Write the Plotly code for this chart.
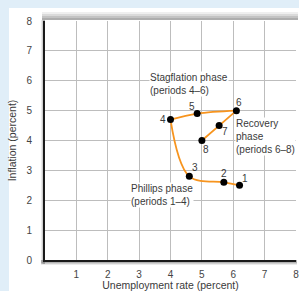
import plotly.graph_objects as go

# ---- data ----
unemployment = [6.2, 5.7, 4.6, 4.0, 4.85, 6.1, 5.55, 5.0]
inflation = [2.5, 2.6, 2.8, 4.7, 4.9, 5.0, 4.5, 4.0]
period_labels = ["1", "2", "3", "4", "5", "6", "7", "8"]
x_ticks = [1, 2, 3, 4, 5, 6, 7, 8]
y_ticks = [0, 1, 2, 3, 4, 5, 6, 7, 8]
phase_segments = [(0, 4), (3, 6), (5, 8)]  # index ranges of the three phases
phase_texts = ["Phillips phase<br>(periods 1–4)",
               "Stagflation phase<br>(periods 4–6)",
               "Recovery<br>phase<br>(periods 6–8)"]
phase_anchor = [(2.71, 2.16), (3.31, 5.90), (6.05, 4.14)]
label_shift = [(5, 7), (0, 9), (6, 9), (-8, 0), (-5, 7), (3, 8), (6, -6), (4, -9)]

ORANGE = "#F7941E"
FONT = "Liberation Sans, Arial, sans-serif"
TXT = "#3a3a3a"

fig = go.Figure()

for a, b in phase_segments:
    fig.add_trace(go.Scatter(
        x=unemployment[a:b], y=inflation[a:b], mode="lines",
        line=dict(color=ORANGE, width=1.8, shape="spline", smoothing=1.0),
        hoverinfo="skip", showlegend=False))

fig.add_trace(go.Scatter(
    x=unemployment, y=inflation, mode="markers",
    marker=dict(color="black", size=7), showlegend=False))

annotations = []
for xv, yv, lab, (dx, dy) in zip(unemployment, inflation, period_labels, label_shift):
    annotations.append(dict(x=xv, y=yv, text=lab, showarrow=False,
                            xshift=dx, yshift=dy,
                            font=dict(family=FONT, size=10, color=TXT)))
for (xa, ya), t in zip(phase_anchor, phase_texts):
    annotations.append(dict(x=xa, y=ya, text=t, showarrow=False, align="left",
                            xanchor="left", yanchor="middle", bgcolor="white",
                            borderpad=0,
                            font=dict(family=FONT, size=10, color=TXT)))

# page pixel -> paper coords
def px_x(p):
    return (p - 45) / 251.0

def px_y(p):
    return (260 - p) / 239.0

shapes = [
    # white panel on the light blue page
    dict(type="rect", xref="paper", yref="paper", x0=px_x(9), x1=px_x(305),
         y0=px_y(8), y1=px_y(300), fillcolor="white", line=dict(width=0), layer="below"),
]
# soft shadows around the plot frame
for i, op in enumerate([0.12, 0.18, 0.24, 0.3]):
    shapes.append(dict(type="rect", xref="paper", yref="paper",
                       x0=px_x(42), x1=px_x(298), y0=px_y(20), y1=px_y(12 + i * 2),
                       fillcolor="#7a7a7a", opacity=op, line=dict(width=0), layer="below"))
for i, op in enumerate([0.15, 0.25, 0.35]):
    shapes.append(dict(type="rect", xref="paper", yref="paper",
                       x0=px_x(41 + i), x1=px_x(45), y0=px_y(264), y1=px_y(20),
                       fillcolor="#7a7a7a", opacity=op, line=dict(width=0), layer="below"))
    shapes.append(dict(type="rect", xref="paper", yref="paper",
                       x0=px_x(41), x1=px_x(297), y0=px_y(265 - i), y1=px_y(260),
                       fillcolor="#7a7a7a", opacity=op, line=dict(width=0), layer="below"))

fig.update_layout(
    width=299, height=291,
    margin=dict(l=45, r=3, t=21, b=31),
    paper_bgcolor="#E0EEF8", plot_bgcolor="white",
    font=dict(family=FONT, size=10, color=TXT),
    showlegend=False,
    annotations=annotations,
    shapes=shapes,
    xaxis=dict(range=[0, 8], tickvals=x_ticks, ticktext=[str(v) for v in x_ticks],
               showgrid=True, gridcolor="#BDBDBD", gridwidth=1,
               showline=True, linecolor="#1a1a1a", linewidth=2,
               ticks="outside", ticklen=4, tickcolor="rgba(0,0,0,0)",
               ticklabeloverflow="allow",
               zeroline=False, fixedrange=True, automargin=False,
               title=dict(text="Unemployment rate (percent)", standoff=2,
                          font=dict(family=FONT, size=10.5, color=TXT)),
               tickfont=dict(family=FONT, size=10, color="#444")),
    yaxis=dict(range=[0, 8], tickvals=y_ticks, ticktext=[str(v) for v in y_ticks],
               showgrid=True, gridcolor="#BDBDBD", gridwidth=1,
               showline=True, linecolor="#1a1a1a", linewidth=2,
               ticks="outside", ticklen=9, tickcolor="rgba(0,0,0,0)",
               ticklabeloverflow="allow",
               zeroline=False, fixedrange=True, automargin=False,
               title=dict(text="Inflation (percent)", standoff=8,
                          font=dict(family=FONT, size=10.5, color=TXT)),
               tickfont=dict(family=FONT, size=10, color="#444")),
)

fig.write_html("out.html",
               config={"displayModeBar": False},
               post_script="document.body.style.margin='0';"
                           "document.body.style.overflow='hidden';"
                           "document.documentElement.style.overflow='hidden';")
